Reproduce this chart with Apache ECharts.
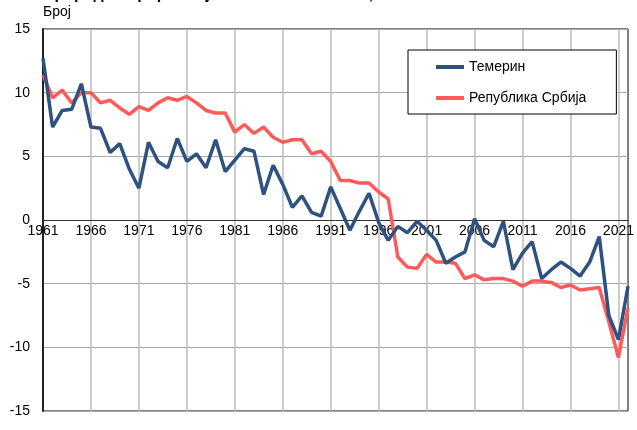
<!DOCTYPE html>
<html><head><meta charset="utf-8">
<script src="https://cdn.jsdelivr.net/npm/echarts@6/dist/echarts.min.js"></script>
<style>html,body{margin:0;padding:0;background:#fff}#c{width:637px;height:430px}</style>
</head><body><div id="c"></div>
<script>
const years = [];
for (let y = 1961; y <= 2022; y++) years.push(String(y));
const temerin = [12.7,7.3,8.6,8.7,10.7,7.3,7.2,5.3,6.0,4.0,2.5,6.1,4.6,4.1,6.4,4.6,5.2,4.1,6.3,3.8,
  4.7,5.6,5.4,2.0,4.3,2.8,1.0,1.9,0.6,0.3,2.6,0.9,-0.8,0.7,2.1,-0.2,-1.6,-0.5,-1.0,-0.1,
  -0.8,-1.6,-3.4,-2.9,-2.5,0.1,-1.6,-2.1,-0.1,-3.9,-2.6,-1.7,-4.6,-3.9,-3.3,-3.8,-4.4,-3.3,-1.3,-7.5,
  -9.4,-5.2];
const srbija = [11.4,9.6,10.2,9.2,10.0,10.0,9.2,9.4,8.8,8.3,8.9,8.6,9.2,9.6,9.4,9.7,9.2,8.6,8.4,8.4,
  6.9,7.5,6.8,7.3,6.5,6.1,6.3,6.3,5.2,5.4,4.6,3.1,3.1,2.9,2.9,2.2,1.65,-2.9,-3.7,-3.8,
  -2.7,-3.3,-3.3,-3.4,-4.6,-4.3,-4.7,-4.6,-4.6,-4.8,-5.2,-4.8,-4.8,-4.9,-5.3,-5.1,-5.5,-5.4,-5.3,-8.0,
  -10.8,-6.9];
const seriesNames = ['Темерин','Република Србија'];
const yTicks = [-15,-10,-5,0,5,10,15];

const chart = echarts.init(document.getElementById('c'));
const font = 'Liberation Sans, Arial, sans-serif';
const gridTop = 29, gridBottom = 19, H = 430;
const plotH = H - gridTop - gridBottom;
const zeroOffset = -plotH * (0 - yTicks[0]) / (yTicks[yTicks.length-1] - yTicks[0]);
chart.setOption({
  animation: false,
  textStyle: {fontFamily: font},
  graphic: [
    {type:'text', left: 43, top: -13, style:{text:'Природни прираштај на 1000 становника, 1961–2022.', font:'bold 16px Liberation Sans, Arial', fill:'#000'}},
    {type:'text', left: 43, top: 5, style:{text:'Број', font:'14px Liberation Sans, Arial', fill:'#000'}}
  ],
  grid: {left: 43, right: 5, top: gridTop, bottom: gridBottom, show: true, borderColor: '#000', borderWidth: 1, backgroundColor: 'transparent'},
  legend: {
    data: seriesNames, orient: 'vertical', left: 408, top: 50,
    backgroundColor: '#fff', borderColor: '#000', borderWidth: 1,
    padding: [9, 30, 8, 28], itemWidth: 28, itemHeight: 4, itemGap: 15, icon: 'rect',
    textStyle: {fontSize: 14, color: '#000', fontFamily: font, lineHeight: 16}
  },
  xAxis: {
    type: 'category', data: years, boundaryGap: false,
    offset: zeroOffset,
    axisLine: {onZero: false, lineStyle: {color: '#333', width: 1}},
    axisTick: {show: false},
    axisLabel: {interval: 4, color: '#000', fontSize: 14, margin: 4, fontFamily: font},
    splitLine: {show: true, interval: 4, lineStyle: {color: '#bdbdbd', width: 1.5}}
  },
  yAxis: {
    type: 'value', min: yTicks[0], max: yTicks[yTicks.length-1], interval: 5,
    axisLine: {show: true, lineStyle: {color: '#222', width: 2}},
    axisTick: {show: false},
    axisLabel: {color: '#000', fontSize: 14, margin: 13, fontFamily: font},
    splitLine: {show: true, lineStyle: {color: '#aaaaaa', width: 1}}
  },
  series: [
    {name: seriesNames[0], type: 'line', data: temerin, symbol: 'none', lineStyle: {color: '#2f5180', width: 3.5}, itemStyle: {color: '#2f5180'}, z: 3},
    {name: seriesNames[1], type: 'line', data: srbija, symbol: 'none', lineStyle: {color: '#ff5a5a', width: 3.5}, itemStyle: {color: '#ff5a5a'}, z: 2}
  ]
});
</script></body></html>
